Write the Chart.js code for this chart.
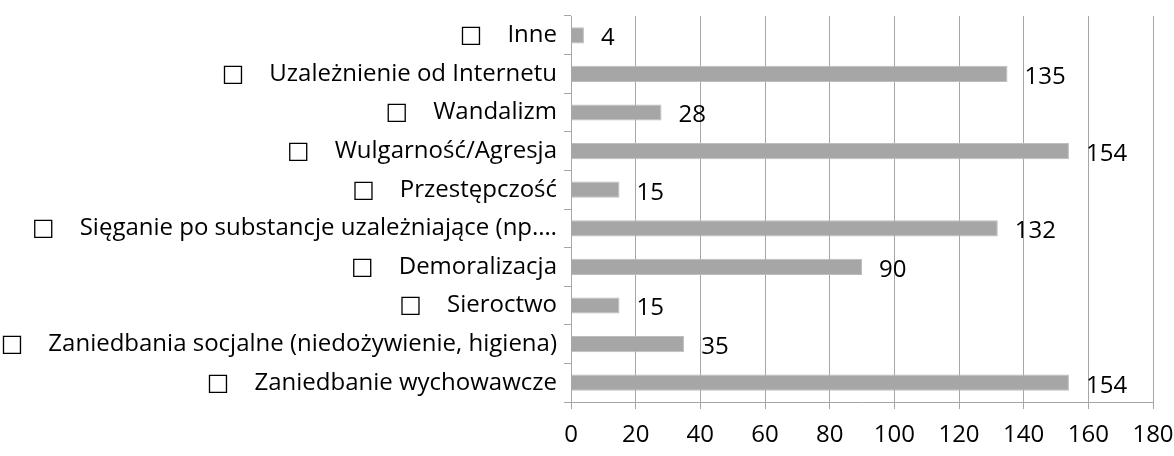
<!DOCTYPE html>
<html>
<head>
<meta charset="utf-8">
<script src="https://cdn.jsdelivr.net/npm/chart.js@4"></script>
<style>
html,body{margin:0;padding:0;background:#fff}
#wrap{width:1174px;height:456px}
</style>
</head>
<body>
<div id="wrap"><canvas id="chart"></canvas></div>
<script>
const labels=[
"Inne",
"Uzależnienie od Internetu",
"Wandalizm",
"Wulgarność/Agresja",
"Przestępczość",
"Sięganie po substancje uzależniające (np.…",
"Demoralizacja",
"Sieroctwo",
"Zaniedbania socjalne (niedożywienie, higiena)",
"Zaniedbanie wychowawcze"
]
const values=[4,135,28,154,15,132,90,15,35,154]
const xTicks=[0,20,40,60,80,100,120,140,160,180]

const FONT="'Open Sans', 'DejaVu Sans', sans-serif"

// value labels to the right of each bar
const valueLabels={
id:'valueLabels',
afterDatasetsDraw(chart){
const ctx=chart.ctx
const meta=chart.getDatasetMeta(0)
ctx.save()
ctx.font="24px "+FONT
ctx.fillStyle="#000"
ctx.textBaseline="middle"
ctx.textAlign="left"
meta.data.forEach((bar,i)=>{
ctx.fillText(String(values[i]),bar.x+17,bar.y+3)
})
ctx.restore()
}
}

new Chart(document.getElementById("chart"),{
type:'bar',
data:{
labels:labels.map(l=>"□    "+l),
datasets:[{
data:values,
backgroundColor:"#a6a6a6",
borderColor:"#bdbdbd",
borderWidth:1,
categoryPercentage:1,
barPercentage:0.42
}]
},
options:{
indexAxis:'y',
responsive:true,
maintainAspectRatio:false,
animation:false,
layout:{padding:{top:16,right:21,left:0,bottom:0}},
plugins:{legend:{display:false},tooltip:{enabled:false}},
scales:{
x:{
min:0,max:180,
afterBuildTicks(s){s.ticks=xTicks.map(v=>({value:v}))},
afterFit(s){s.height=54;s.paddingRight=0;s.paddingLeft=0},
grid:{color:"#a6a6a6",lineWidth:1,tickLength:7,drawTicks:true},
border:{color:"#a6a6a6"},
ticks:{color:"#000",font:{family:FONT,size:24},padding:12,maxRotation:0}
},
y:{
afterFit(s){s.width=571;s.paddingTop=0;s.paddingBottom=0},
grid:{drawOnChartArea:false,color:"#a6a6a6",tickLength:7,offset:true},
border:{color:"#a6a6a6"},
ticks:{color:"#000",font:{family:FONT,size:24},padding:7}
}
}
},
plugins:[valueLabels]
})
</script>
</body>
</html>
